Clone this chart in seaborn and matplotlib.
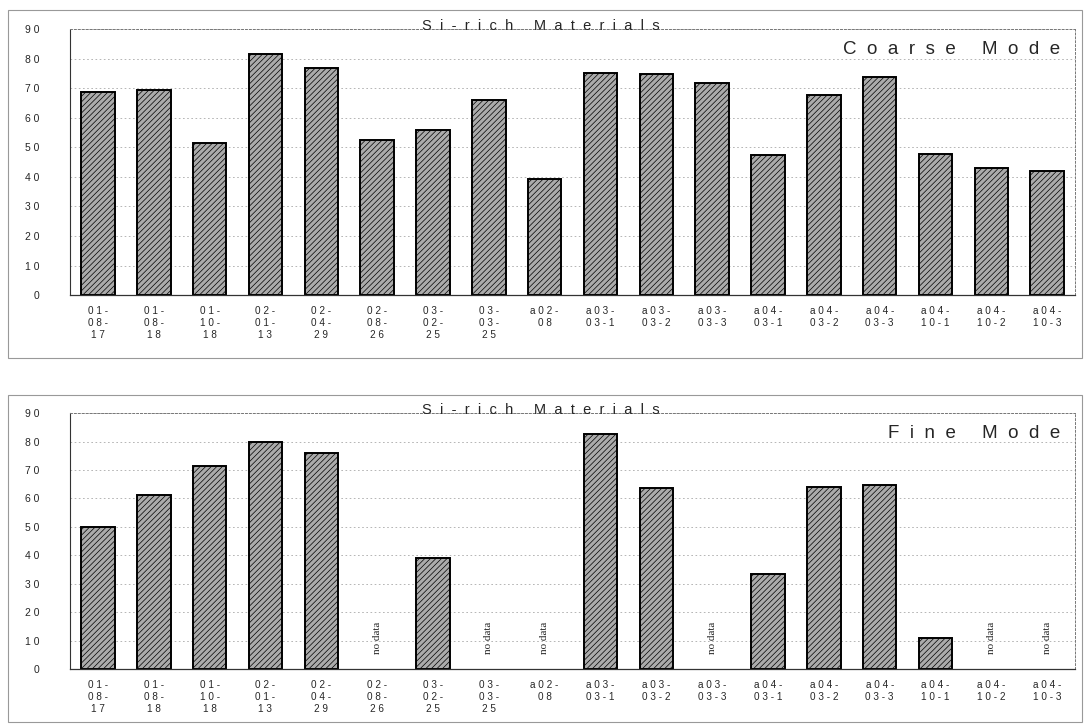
import numpy as np
import pandas as pd
import matplotlib
matplotlib.use('Agg')
import matplotlib.pyplot as plt
import seaborn as sb
from matplotlib.patches import Rectangle

samples = ['01-08-17', '01-08-18', '01-10-18', '02-01-13', '02-04-29', '02-08-26',
           '03-02-25', '03-03-25', 'a02-08', 'a03-03-1', 'a03-03-2', 'a03-03-3',
           'a04-03-1', 'a04-03-2', 'a04-03-3', 'a04-10-1', 'a04-10-2', 'a04-10-3']
coarse = [68.7, 69.3, 51.4, 81.5, 76.8, 52.4, 55.8, 66.0, 39.2, 75.1, 74.8, 71.7,
          47.4, 67.7, 73.8, 47.7, 43.0, 42.0]
fine = [49.8, 61.2, 71.4, 79.8, 76.0, np.nan, 39.0, np.nan, np.nan, 82.5, 63.6, np.nan,
        33.4, 64.0, 64.7, 10.9, np.nan, np.nan]
yticks = list(range(0, 100, 10))
title = 'Si-rich Materials'


def spaced(s, gap=' '):
    return gap.join(s)


def tickLabel(s):
    # break the sample names after each dash, like the original sheet
    parts = s.split('-')
    lines = [p + '-' for p in parts[:-1]] + [parts[-1]]
    if len(lines) == 3 and s.startswith('a'):
        lines = [lines[0], lines[1] + lines[2]]
    return '\n'.join(spaced(l) for l in lines)


def modePanel(ax, values, mode):
    df = pd.DataFrame({'sample': samples, 'value': values})
    sb.barplot(data=df, x='sample', y='value', order=samples, ax=ax,
               color='#ababab', width=0.6, errorbar=None,
               edgecolor='black', linewidth=1.4, saturation=1)
    for p in ax.patches:
        p.set_hatch('//////')
    ax.set_ylim(0, 90)
    ax.set_xlim(-0.5, len(samples) - 0.5)
    ax.set_yticks(yticks)
    ax.set_yticklabels([spaced(str(t)) for t in yticks], fontsize=7.5)
    ax.set_xticks(range(len(samples)))
    ax.set_xticklabels([tickLabel(s) for s in samples], fontsize=7.2, linespacing=1.25)
    ax.tick_params(axis='x', length=0, pad=8)
    ax.tick_params(axis='y', length=0, pad=22)
    ax.set_xticks(np.arange(-0.5, len(samples), 1), minor=True)
    ax.tick_params(axis='x', which='minor', length=4, direction='out')
    ax.set_xlabel('')
    ax.set_ylabel('')
    ax.grid(axis='y', color='#aaaaaa', linestyle=(0, (2, 3)), linewidth=0.6)
    ax.set_axisbelow(True)
    for side in ['top', 'right']:
        ax.spines[side].set_color('#777777')
        ax.spines[side].set_linestyle((0, (2, 2)))
        ax.spines[side].set_linewidth(0.7)
    ax.spines['left'].set_color('#333333')
    ax.spines['left'].set_linestyle((0, (1, 1)))
    ax.spines['bottom'].set_color('#333333')
    ax.spines['bottom'].set_linewidth(0.9)
    ax.text(0.468, 0.997, spaced(title, '  '), transform=ax.transAxes, ha='center',
            va='baseline', fontsize=10.5, family='Liberation Sans')
    ax.text(0.985, 0.955, spaced(mode, '  ').replace('      ', '        '),
            transform=ax.transAxes, ha='right', va='top', fontsize=13.5,
            family='Liberation Sans')
    for i, v in enumerate(values):
        if np.isnan(v):
            ax.text(i, 11, 'no data', rotation=90, ha='center', va='center',
                    fontsize=8, family='Liberation Serif')


sb.set_style('white')
plt.rcParams['font.family'] = ['Liberation Sans', 'DejaVu Sans']
plt.rcParams['hatch.color'] = '#6e6e6e'
plt.rcParams['hatch.linewidth'] = 0.5

fig = plt.figure(figsize=(10.89, 7.25), dpi=100)
ax1 = fig.add_axes([0.0643, 0.593, 0.923, 0.367])
ax2 = fig.add_axes([0.0643, 0.0772, 0.923, 0.353])

modePanel(ax1, coarse, 'Coarse Mode')
modePanel(ax2, fine, 'Fine Mode')

for y0, h in [(0.506, 0.48), (0.004, 0.451)]:
    fig.patches.append(Rectangle((0.0073, y0), 0.9863, h, transform=fig.transFigure,
                                 fill=False, edgecolor='#999999', linewidth=0.8))

plt.savefig('out.png', dpi=100)
